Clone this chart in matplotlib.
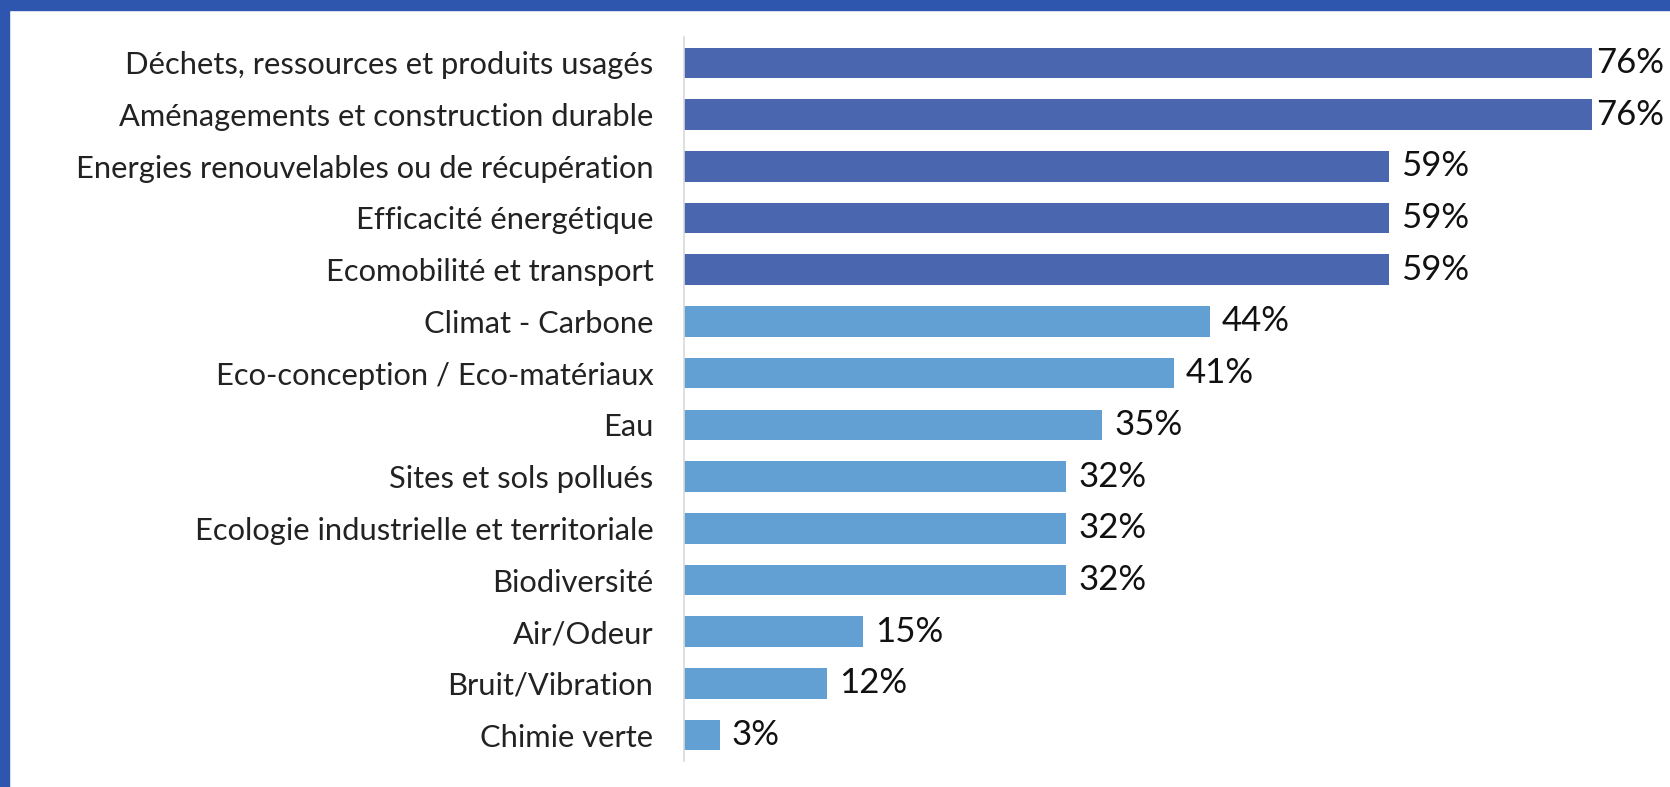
import matplotlib.pyplot as plt
from matplotlib.patches import Rectangle

# DATA
categories = [
    "Déchets, ressources et produits usagés",
    "Aménagements et construction durable",
    "Energies renouvelables ou de récupération",
    "Efficacité énergétique",
    "Ecomobilité et transport",
    "Climat - Carbone",
    "Eco-conception / Eco-matériaux",
    "Eau",
    "Sites et sols pollués",
    "Ecologie industrielle et territoriale",
    "Biodiversité",
    "Air/Odeur",
    "Bruit/Vibration",
    "Chimie verte",
]
values = [76, 76, 59, 59, 59, 44, 41, 35, 32, 32, 32, 15, 12, 3]
n_dark = 5  # first five bars are darker

dark = '#4A66AE'
light = '#629FD2'
border = '#2E56AF'

plt.rcParams['font.family'] = ['Lato', 'DejaVu Sans']

fig = plt.figure(figsize=(16.7, 7.87), dpi=100)
ax = fig.add_axes([0.4096, 0.033, 0.5904, 0.92])

ypos = list(range(len(categories)))
colors = [dark if i < n_dark else light for i in range(len(categories))]
bars = ax.barh(ypos, values, height=0.59, color=colors)

xmax = 82.5
for b, v in zip(bars, values):
    # labels near the right edge get squeezed in closer to the bar
    off = 1.0 if v + 7 < xmax else 0.3
    ax.text(b.get_width() + off, b.get_y() + b.get_height() / 2, f"{v}%",
            va='center', ha='left', fontsize=25, color='#111111')

ax.set_yticks(ypos)
ax.set_yticklabels(categories, fontsize=22.2, color='#222222')
ax.tick_params(axis='y', length=0, pad=22)
ax.set_xticks([])
ax.set_xlim(0, xmax)
ax.set_ylim(len(categories) - 0.5, -0.5)

for s in ['top', 'right', 'bottom']:
    ax.spines[s].set_visible(False)
ax.spines['left'].set_color('#D9D9D9')
ax.spines['left'].set_linewidth(1.2)

# blue frame on top and left
fig.patches.append(Rectangle((0, 1 - 10 / 787), 1, 10 / 787, transform=fig.transFigure,
                             color=border, zorder=5))
fig.patches.append(Rectangle((0, 0), 9 / 1670, 1, transform=fig.transFigure,
                             color=border, zorder=5))

fig.savefig('out.png', dpi=100)
